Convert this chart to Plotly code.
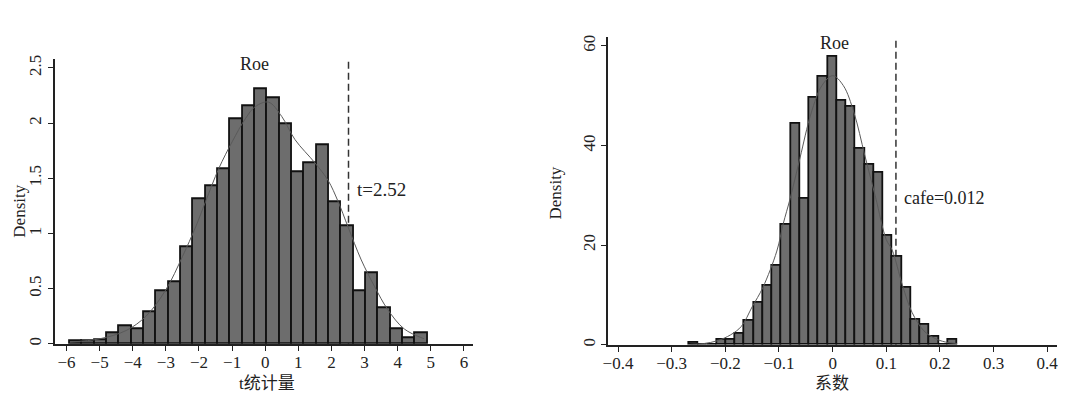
import plotly.graph_objects as go

# ---------------- data: left panel (t statistics) ----------------
t_bin_start = -5.9
t_bin_width = 0.3724
t_density = [0.02, 0.02, 0.03, 0.10, 0.16, 0.13, 0.29, 0.48, 0.56, 0.88,
             1.315, 1.425, 1.586, 2.04, 2.15, 2.31, 2.23, 1.99, 1.556, 1.637,
             1.80, 1.286, 1.07, 0.48, 0.64, 0.32, 0.13, 0.05, 0.10]
t_curve_x = [-5.9, -5.0, -4.2, -3.6, -3.0, -2.5, -2.1, -1.8, -1.4, -1.0, -0.6,
             -0.3, 0.1, 0.5, 0.9, 1.5, 1.9, 2.2, 2.5, 2.9, 3.3, 3.7, 4.2, 4.8]
t_curve_y = [0.015, 0.045, 0.12, 0.25, 0.49, 0.79, 1.06, 1.29, 1.59, 1.83, 2.04,
             2.15, 2.19, 2.06, 1.85, 1.64, 1.48, 1.29, 1.06, 0.76, 0.52, 0.31, 0.134, 0.045]
t_observed = 2.515
t_xticks = [-6, -5, -4, -3, -2, -1, 0, 1, 2, 3, 4, 5, 6]
t_xtick_text = ["\u22126", "\u22125", "\u22124", "\u22123", "\u22122", "\u22121",
                "0", "1", "2", "3", "4", "5", "6"]
t_yticks = [0, 0.5, 1, 1.5, 2, 2.5]
t_ytick_text = ["0", "0.5", "1", "1.5", "2", "2.5"]

# ---------------- data: right panel (coefficients) ----------------
c_bin_start = -0.2677
c_bin_width = 0.01725
c_density = [0.4, 0, 0, 0.9, 0.9, 2.1, 4.9, 8.4, 11.9, 15.9,
             24.0, 44.4, 29.3, 49.6, 53.7, 57.7, 48.9, 47.8, 39.3, 36.2,
             34.5, 21.8, 17.7, 11.4, 5.0, 3.95, 1.5, 0, 0.9]
c_curve_x = [-0.265, -0.24, -0.215, -0.19, -0.17, -0.15, -0.13, -0.104, -0.092,
             -0.079, -0.061, -0.04, -0.02, 0.0, 0.02, 0.04, 0.06, 0.08, 0.1,
             0.111, 0.13, 0.148, 0.17, 0.19, 0.21, 0.232]
c_curve_y = [0.08, 0.24, 0.8, 2.0, 3.7, 7.6, 11.5, 18.8, 24.3,
             29.4, 37.4, 46.5, 52.0, 54.0, 52.0, 46.5, 38.0, 29.6, 21.1,
             19.0, 12.0, 6.5, 2.8, 1.3, 0.55, 0.25]
c_observed = 0.118
c_xticks = [-0.4, -0.3, -0.2, -0.1, 0, 0.1, 0.2, 0.3, 0.4]
c_xtick_text = ["\u22120.4", "\u22120.3", "\u22120.2", "\u22120.1", "0",
                "0.1", "0.2", "0.3", "0.4"]
c_yticks = [0, 20, 40, 60]
c_ytick_text = ["0", "20", "40", "60"]

# ---------------- styling ----------------
SERIF = "Liberation Serif, Times New Roman, serif"
CJK = "Liberation Serif, Noto Sans CJK SC, sans-serif"
BAR_FILL = "#6d6d6d"
BAR_EDGE = "#111111"
AXIS = "#222222"

def centers(start, width, n):
    return [start + width * (i + 0.5) for i in range(n)]

fig = go.Figure()

fig.add_trace(go.Bar(
    x=centers(t_bin_start, t_bin_width, len(t_density)), y=t_density,
    width=t_bin_width, marker=dict(color=BAR_FILL, line=dict(color=BAR_EDGE, width=1.8)),
    xaxis="x", yaxis="y", showlegend=False, hoverinfo="skip"))
fig.add_trace(go.Scatter(
    x=t_curve_x, y=t_curve_y, mode="lines",
    line=dict(color="#5a5a5a", width=1, shape="spline", smoothing=1.0),
    xaxis="x", yaxis="y", showlegend=False, hoverinfo="skip"))

fig.add_trace(go.Bar(
    x=centers(c_bin_start, c_bin_width, len(c_density)), y=c_density,
    width=c_bin_width, marker=dict(color=BAR_FILL, line=dict(color=BAR_EDGE, width=1.8)),
    xaxis="x2", yaxis="y2", showlegend=False, hoverinfo="skip"))
fig.add_trace(go.Scatter(
    x=c_curve_x, y=c_curve_y, mode="lines",
    line=dict(color="#5a5a5a", width=1, shape="spline", smoothing=1.0),
    xaxis="x2", yaxis="y2", showlegend=False, hoverinfo="skip"))

axis_common = dict(showline=True, linecolor=AXIS, linewidth=1.6, ticks="outside",
                   ticklen=5, tickwidth=1.3, tickcolor=AXIS, showgrid=False,
                   zeroline=False, tickfont=dict(family=SERIF, size=17, color="#222"),
                   fixedrange=True)

fig.update_layout(
    width=1080, height=395,
    margin=dict(l=0, r=0, t=0, b=0),
    paper_bgcolor="white", plot_bgcolor="white",
    bargap=0,
    xaxis=dict(domain=[0.04565, 0.43519], range=[-6.35, 6.26], anchor="y",
               tickmode="array", tickvals=t_xticks, ticktext=t_xtick_text,
               ticklabelstandoff=-3, **axis_common),
    yaxis=dict(domain=[0.12658, 0.85823], range=[0, 2.58], anchor="x",
               tickmode="array", tickvals=t_yticks, ticktext=t_ytick_text,
               tickangle=-90, **axis_common),
    xaxis2=dict(domain=[0.56176, 0.98], range=[-0.4183, 0.4174], anchor="y2",
                tickmode="array", tickvals=c_xticks, ticktext=c_xtick_text,
                ticklabelstandoff=-3, **axis_common),
    yaxis2=dict(domain=[0.12405, 0.91570], range=[0, 61.8], anchor="x2",
                tickmode="array", tickvals=c_yticks, ticktext=c_ytick_text,
                tickangle=-90, **axis_common),
)

dash_line = dict(color="#333333", width=1.5, dash="7px,4px")
fig.add_shape(type="line", xref="x", yref="y", x0=t_observed, x1=t_observed,
              y0=0, y1=2.58, line=dash_line, layer="below")
fig.add_shape(type="line", xref="x2", yref="y2", x0=c_observed, x1=c_observed,
              y0=0, y1=61.8, line=dash_line, layer="below")

def ann(text, x, y, size, family=SERIF, xanchor="center", angle=0):
    fig.add_annotation(text=text, x=x, y=y, xref="paper", yref="paper",
                       xanchor=xanchor, yanchor="middle", showarrow=False,
                       textangle=angle, font=dict(family=family, size=size, color="#222"))

ann("Roe", 0.2315, 0.8456, 18)
ann("Roe", 0.7731, 0.8987, 18)
ann("t=2.52", 0.3255, 0.5233, 19, xanchor="left")
ann("cafe=0.012", 0.8360, 0.5020, 18, xanchor="left")
ann("Density", 0.01296, 0.4684, 17, angle=-90)
ann("Density", 0.5130, 0.5152, 17, angle=-90)
ann("t统计量", 0.2435, 0.0240, 17, family=CJK)
ann("系数", 0.7704, 0.0240, 17, family=CJK)

fig.write_html("out.html", config={"displayModeBar": False},
               post_script="document.body.style.margin='0';document.body.style.padding='0';")
